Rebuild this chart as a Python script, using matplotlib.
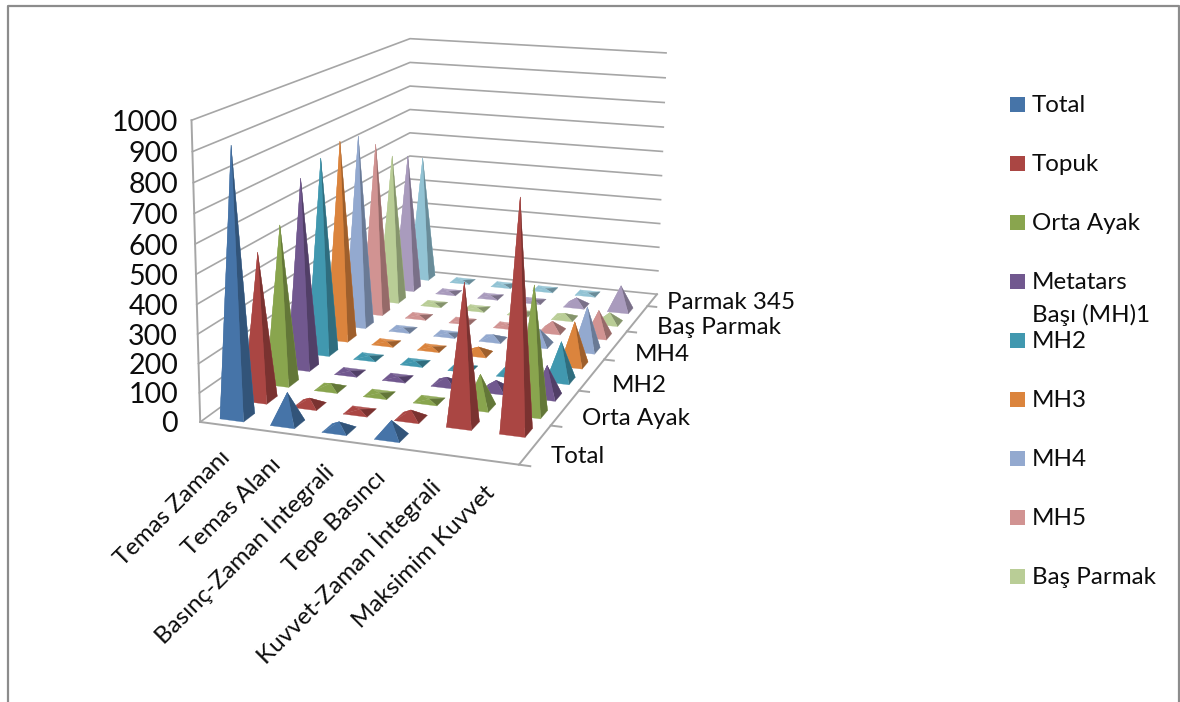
import numpy as np
import matplotlib
matplotlib.use('Agg')
import matplotlib.pyplot as plt
from matplotlib.colors import to_rgb
from matplotlib.patches import Rectangle
from mpl_toolkits.mplot3d import proj3d
from mpl_toolkits.mplot3d.art3d import Poly3DCollection

plt.rcParams['font.family'] = ['Lato', 'DejaVu Sans']

categories = ['Temas Zamanı', 'Temas Alanı', 'Basınç-Zaman İntegrali', 'Tepe Basıncı',
              'Kuvvet-Zaman İntegrali', 'Maksimim Kuvvet']
series_names = ['Total', 'Topuk', 'Orta Ayak', 'Metatars Başı (MH)1', 'MH2', 'MH3', 'MH4', 'MH5',
                'Baş Parmak', 'Parmak 2', 'Parmak 345']

total = [910, 105, 27, 55, 0, 0]
topuk = [514, 25, 8, 28, 483, 777]
orta_ayak = [565, 18, 5, 5, 115, 443]
metatars = [691, 5, 5, 25, 35, 110]
mh2 = [727, 5, 5, 8, 45, 140]
mh3 = [755, 5, 5, 25, 15, 160]
mh4 = [741, 6, 5, 18, 60, 165]
mh5 = [676, 5, 4, 6, 38, 100]
bas_parmak = [594, 5, 4, 5, 18, 40]
parmak2 = [559, 4, 4, 5, 32, 100]
parmak345 = [515, 3, 3, 3, 3, 0]
values = [total, topuk, orta_ayak, metatars, mh2, mh3, mh4, mh5, bas_parmak, parmak2, parmak345]

colors = ['#4674A8', '#AA4643', '#89A54E', '#71588F', '#4198AF', '#DB843D',
          '#93A9CF', '#D19392', '#B9CD96', '#A99BBD', '#92C3D4']

z_ticks = list(range(0, 1001, 100))
y_tick_rows = [0, 2, 4, 6, 8, 10]
y_tick_labels = ['Total', 'Orta Ayak', 'MH2', 'MH4', 'Baş Parmak', 'Parmak 345']
y_label_dx = [23, 24, 26, 25, 25, 15]
legend_entries = ['Total', 'Topuk', 'Orta Ayak', 'Metatars', 'MH2', 'MH3', 'MH4', 'MH5', 'Baş Parmak']

W, H = 1180, 702
GRID = '#a6a6a6'
TEXT = '#0d0d0d'
FONT = 17.4
Z_FONT = 20.5


def shade(color, k):
    c = np.array(to_rgb(color))
    if k <= 1:
        return tuple(c * k)
    return tuple(c + (1 - c) * (k - 1))


fig = plt.figure(figsize=(W / 100, H / 100), dpi=100)

# flat layer for the outer frame and the legend, in pixel units
flat = fig.add_axes([0, 0, 1, 1])
flat.set_xlim(0, W)
flat.set_ylim(H, 0)
flat.axis('off')
flat.plot([7.5, 7.5, 1178.5, 1178.5], [H, 5.5, 5.5, H], color='#8c8c8c', lw=1.6)

legend_y = 104
for name, col in zip(legend_entries, colors):
    flat.add_patch(Rectangle((1010, legend_y - 7.5), 15, 15, color=col, lw=0))
    flat.text(1032, legend_y + 1.5, name, fontsize=FONT, color=TEXT, va='center')
    if name == 'Metatars':
        flat.text(1032, legend_y + 33.5, 'Başı (MH)1', fontsize=FONT, color=TEXT, va='center')
    legend_y += 59

ax = fig.add_axes([0.09881, 0.20402, 0.56044, 0.94205], projection='3d', computed_zorder=False)
ax.patch.set_alpha(0)
ax.set_axis_off()
ax.set_xlim(0, 6, view_margin=0)
ax.set_ylim(0, 11, view_margin=0)
ax.set_zlim(0, 1000, view_margin=0)
ax.view_init(13.8869, -71.3963, -0.4808)
ax.set_proj_type('persp', focal_length=0.4850)
ax.set_box_aspect((1.0852, 1.9767, 1))

# walls
for z in z_ticks:
    ax.plot([0, 0, 6], [0, 11, 11], [z, z, z], color=GRID, lw=1.2, zorder=1, clip_on=False)
ax.plot([0, 0], [0, 0], [0, 1000], color=GRID, lw=1.4, zorder=1, clip_on=False)
ax.plot([0, 6, 6], [0, 0, 11], [0, 0, 0], color=GRID, lw=1.4, zorder=1, clip_on=False)

# small ticks along the series axis
for row in y_tick_rows:
    ax.plot([6, 6.2], [row, row], [0, 0], color=GRID, lw=1.4, zorder=1, clip_on=False)

# pyramids, drawn from the far row forward
half = 0.235
order = 2
for j in range(len(series_names) - 1, -1, -1):
    for i in range(len(categories)):
        v = values[j][i]
        if v <= 0:
            continue
        cx, cy = i + 0.5, j + 0.5
        tip = (cx, cy, v)
        c1 = (cx - half, cy - half, 0)
        c2 = (cx + half, cy - half, 0)
        c3 = (cx + half, cy + half, 0)
        c4 = (cx - half, cy + half, 0)
        col = colors[j]
        faces = [[c4, c3, tip], [c4, c1, tip], [c2, c3, tip], [c1, c2, tip]]
        fcs = [shade(col, 1.1), shade(col, 1.0), shade(col, 0.72), shade(col, 1.0)]
        poly = Poly3DCollection(faces, facecolors=fcs, edgecolors=fcs, linewidths=0.2,
                                zorder=order, clip_on=False)
        ax.add_collection3d(poly)
        order += 1

M = ax.get_proj()


def to_2d(x, y, z):
    x2, y2, _ = proj3d.proj_transform(x, y, z, M)
    return x2, y2


# tick labels anchored on the projected axes
for z in z_ticks:
    _, y2 = to_2d(0, 0, z)
    ax.annotate(str(z), xy=(178 / W, y2), xycoords=('figure fraction', 'data'),
                xytext=(0, -2.5), textcoords='offset pixels', ha='right', va='center',
                fontsize=Z_FONT, color=TEXT, annotation_clip=False, zorder=5000)

for row, label, dx in zip(y_tick_rows, y_tick_labels, y_label_dx):
    ax.annotate(label, xy=to_2d(6, row + 0.5, 0), xytext=(dx, -2.5), textcoords='offset pixels',
                ha='left', va='center', fontsize=FONT, color=TEXT, annotation_clip=False, zorder=5000)

for i, label in enumerate(categories):
    ax.annotate(label, xy=to_2d(i + 0.5, 0, 0), xytext=(1, -29), textcoords='offset pixels',
                ha='right', va='center', rotation=45, rotation_mode='anchor',
                fontsize=FONT, color=TEXT, annotation_clip=False, zorder=5000)

fig.savefig('out.png', dpi=100)
